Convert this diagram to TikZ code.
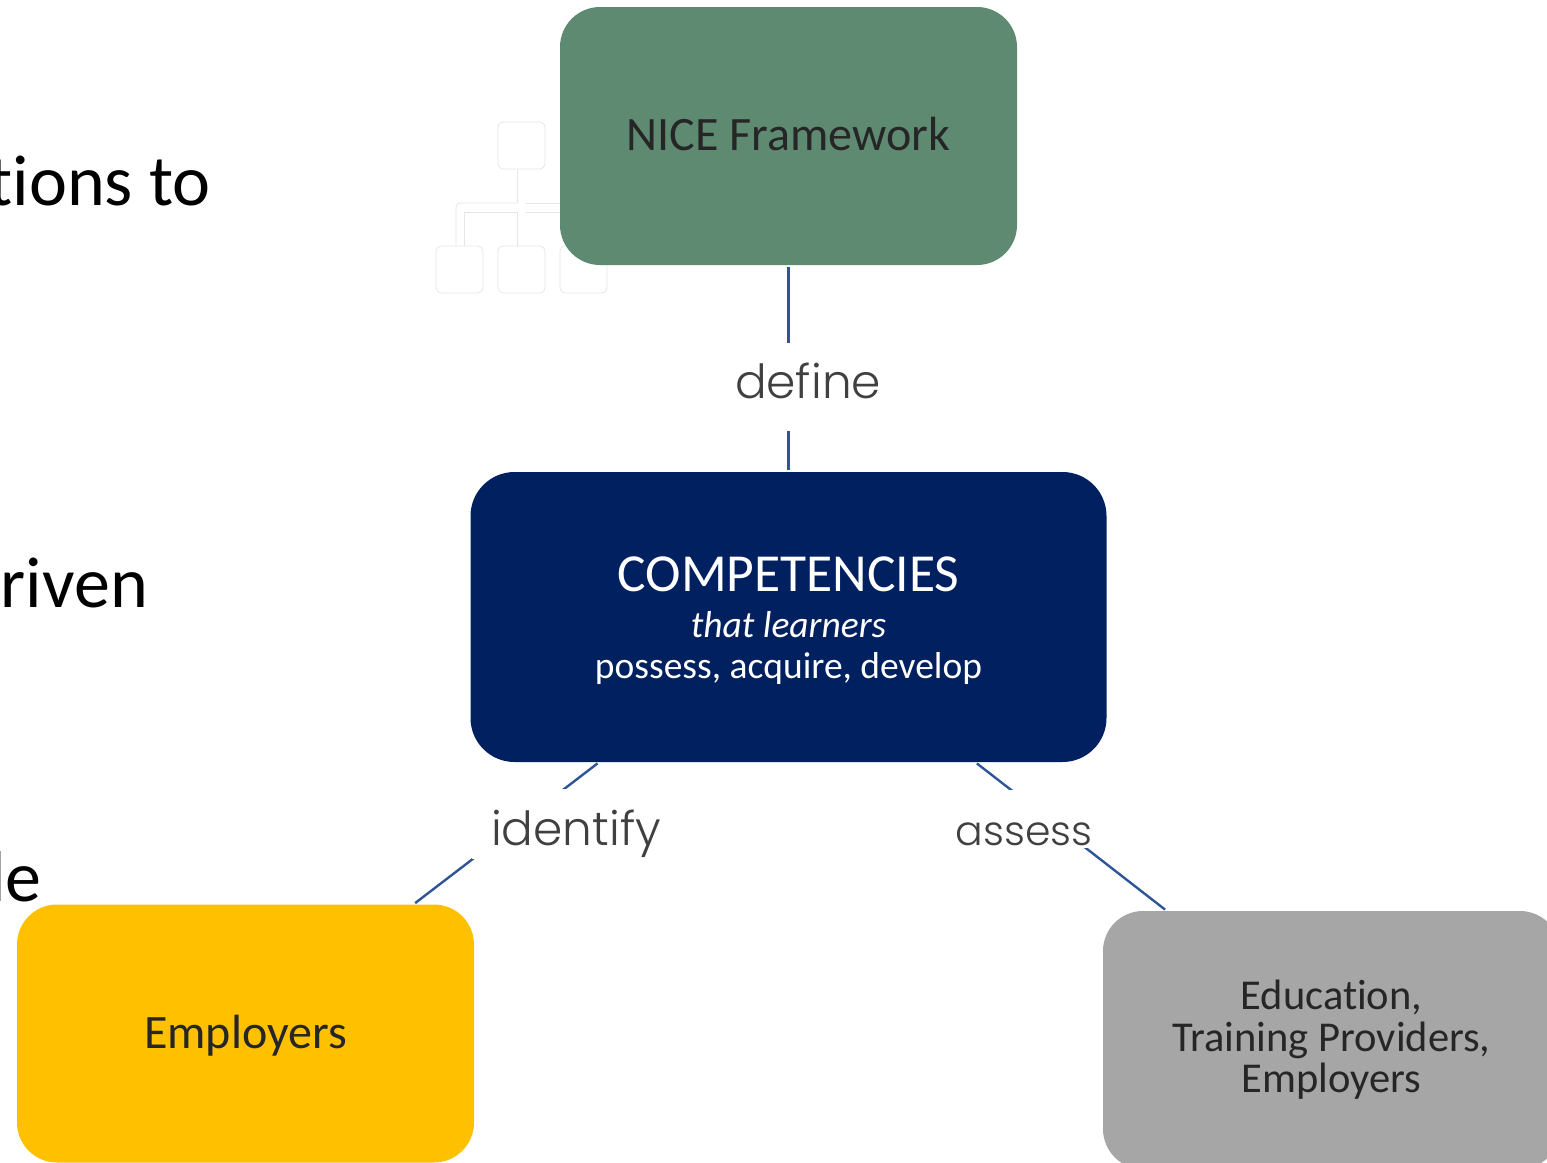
\documentclass[tikz,border=0pt]{standalone}
\usepackage{fontspec}
\setmainfont[Ligatures=NoCommon]{Carlito}
\newfontfamily\labelfont{Poppins Light}
\definecolor{nicegreen}{HTML}{5F8A72}
\definecolor{compblue}{HTML}{00205F}
\definecolor{empyellow}{HTML}{FFC000}
\definecolor{edugray}{HTML}{A6A6A6}
\definecolor{linkblue}{HTML}{2F5597}
\definecolor{darktext}{HTML}{262626}
\definecolor{labeltext}{HTML}{404040}
\definecolor{orgline}{HTML}{E6E6E6}
\tikzset{
  treenode/.style = {shape=rectangle, rounded corners=40pt, align=center,
                     minimum width=457pt, minimum height=258pt,
                     inner sep=0pt, text=darktext},
  comp/.style     = {treenode, fill=compblue, text=white,
                     minimum width=636pt, minimum height=290pt, rounded corners=44pt},
  link/.style     = {draw=linkblue, line width=2.4pt, shorten <=2pt, shorten >=2pt},
  verb/.style     = {fill=white, anchor=base, inner ysep=0pt, inner xsep=19pt,
                     text=labeltext, font=\labelfont\fontsize{47}{47}\selectfont},
  cutoff/.style   = {anchor=base east, inner sep=0pt, text=black,
                     font=\fontsize{72}{72}\selectfont},
  orgbox/.style   = {draw=orgline, fill=white, rounded corners=5pt, line width=.8pt,
                     minimum size=47pt, inner sep=0pt},
  orglink/.style  = {draw=orgline, line width=.8pt}
}

\begin{document}
\begin{tikzpicture}[x=1pt, y=-1pt]
  \useasboundingbox (0,0) rectangle (1547,1162);

  % text running off the left side
  \node [cutoff] (line1) at (211,205) {tions to};
  \node [cutoff] (line2) at (148,607) {riven};
  \node [cutoff] (line3) at (42,901) {le};

  % faint org chart behind the top box
  \node [orgbox] (orgtop)   at (521.5,145.5) {};
  \node [orgbox] (orgleft)  at (459.5,269.5) {};
  \node [orgbox] (orgmid)   at (521.5,269.5) {};
  \node [orgbox] (orgright) at (583.5,269.5) {};
  \draw [orglink] (orgtop.south -| 517,0) -- (517,203);
  \draw [orglink, rounded corners=4pt] (orgleft.north -| 456,0) -- (456,203) -- (517,203);
  \draw [orglink] (526,203) -- (orgright.north |- 0,203);
  \draw [orglink] (orgleft.north -| 464,0) -- (464,212) -- (517,212) -- (orgmid.north -| 517,0);
  \draw [orglink] (526,212) -- (orgright.north |- 0,212);

  \node [treenode, fill=nicegreen, font=\fontsize{48}{48}\selectfont] (nice) at (788.5,136) {\raisebox{-14pt}[0pt][0pt]{NICE Framework}};
  \node [comp, font=\fontsize{37.5}{41}\selectfont] (competencies) at (788.5,617) {%
    \rule{0pt}{42pt}{\fontsize{53.5}{54}\selectfont COMPETENCIES}\\[5pt]
    {\itshape that learners}\\
    possess, acquire, develop};
  \node [treenode, fill=empyellow, font=\fontsize{48}{48}\selectfont] (employers) at (245.5,1033.5) {\raisebox{-14.5pt}[0pt][0pt]{Employers}};
  \node [treenode, fill=edugray, font=\fontsize{42.5}{41.5}\selectfont] (education) at (1331.5,1040) {Education,\\Training Providers,\\Employers};

  \draw [link] (nice) -- (competencies);
  \draw [link] (competencies) -- (employers);
  \draw [link] (competencies) -- (education);

  \node [verb, text height=55pt, text depth=33pt] (define) at (808,398) {define};
  \node [verb, text height=56pt, text depth=14pt] (identify) at (576,845) {identify};
  \node [verb, font=\labelfont\fontsize{41}{41}\selectfont, text height=55pt, text depth=3pt, inner xsep=0pt] (assess) at (1024,845) {assess};
\end{tikzpicture}
\end{document}
